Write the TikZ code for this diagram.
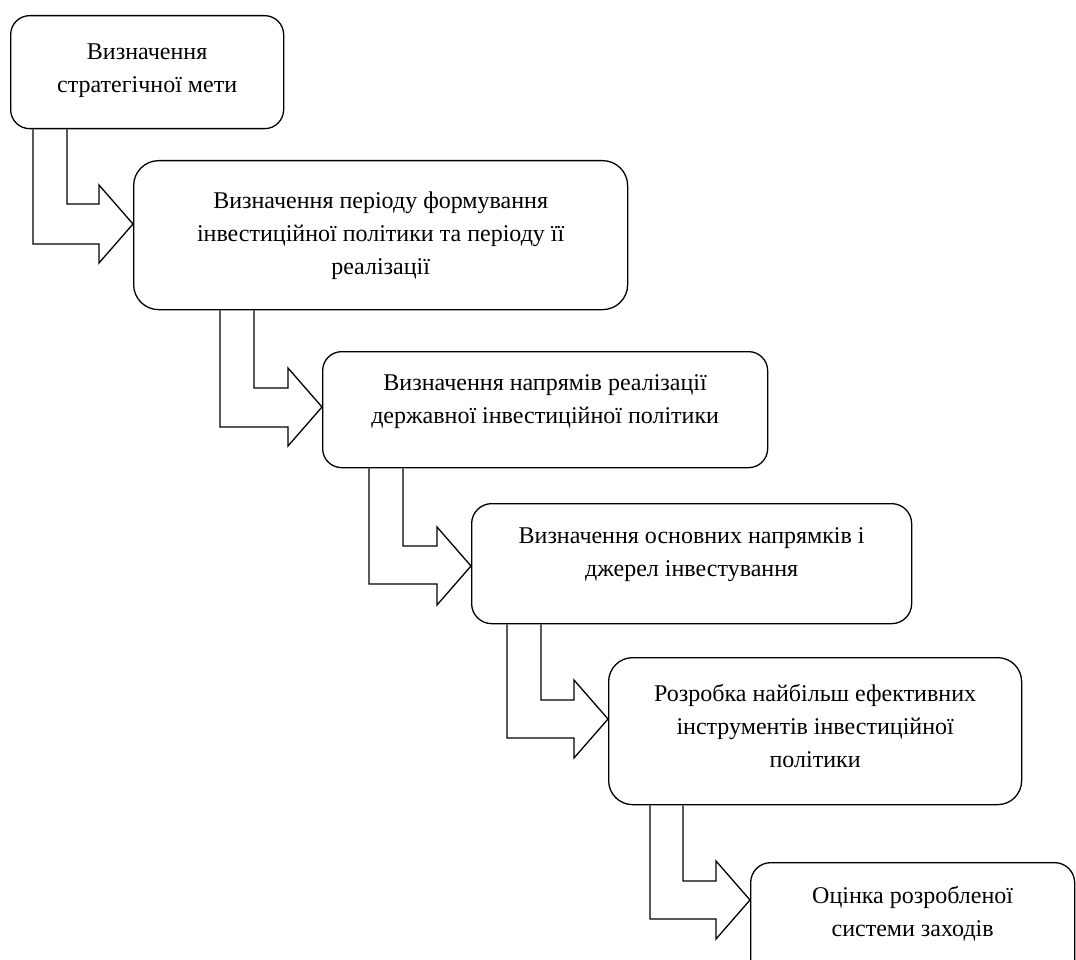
\documentclass[tikz,border=0pt]{standalone}
\usepackage{fontspec}
\setmainfont{Liberation Serif}
\usetikzlibrary{calc}
\newcommand\bentarrow[7]{%
  % #1 from node, #2 to node, #3 outer x, #4 inner x, #5 inner y, #6 outer y, #7 tip y
  \coordinate (o#1) at (#3,#6);
  \coordinate (i#1) at (#4,#5);
  \coordinate (tp#1) at (0,#7);
  \draw[arrowline] (#1.south -| o#1) -- (o#1)
    -- ($(#2.west |- o#1)+(-34,0)$)
    -- ($(#2.west |- tp#1)+(-34,39)$)
    -- (#2.west |- tp#1)
    -- ($(#2.west |- tp#1)+(-34,-39)$)
    -- ($(#2.west |- i#1)+(-34,0)$)
    -- (i#1) -- (#1.south -| i#1);
}
\begin{document}
\begin{tikzpicture}[x=1pt,y=-1pt,
  box/.style={draw, rounded corners=#1, line width=1.3pt, inner sep=0pt, anchor=north west},
  box/.default=20pt,
  lbl/.style={anchor=north, align=center, inner sep=0pt, font=\fontsize{24}{33}\selectfont},
  arrowline/.style={draw, line width=1.3pt, line join=miter}]
\useasboundingbox (0,0) rectangle (1076,960);
\fill[white] (0,0) rectangle (1076,960);

\node[box=19pt, minimum width=273pt, minimum height=113pt] (b1) at (10,15) {};
\node[box=25pt, minimum width=494pt, minimum height=149pt] (b2) at (133,160) {};
\node[box=19pt, minimum width=445pt, minimum height=116pt] (b3) at (322,351) {};
\node[box=20pt, minimum width=440pt, minimum height=120pt] (b4) at (471,503) {};
\node[box=24pt, minimum width=413pt, minimum height=147pt] (b5) at (608,657) {};
\node[box=20pt, minimum width=324pt, minimum height=123pt] (b6) at (750,862) {};

\node[lbl] (t1) at ([yshift=-29pt]b1.north) {Визначення\\стратегічної мети};
\node[lbl] (t2) at ([yshift=-32pt]b2.north) {Визначення періоду формування\\інвестиційної політики та періоду її\\реалізації};
\node[lbl] (t3) at ([yshift=-23pt]b3.north) {Визначення напрямів реалізації\\державної інвестиційної політики};
\node[lbl] (t4) at ([yshift=-24pt]b4.north) {Визначення основних напрямків і\\джерел інвестування};
\node[lbl] (t5) at ([yshift=-27pt]b5.north) {Розробка найбільш ефективних\\інструментів інвестиційної\\політики};
\node[lbl] (t6) at ([yshift=-24pt]b6.north) {Оцінка розробленої\\системи заходів};

\bentarrow{b1}{b2}{33}{67}{204}{244}{224}
\bentarrow{b2}{b3}{220}{254}{388}{427}{407}
\bentarrow{b3}{b4}{369}{403}{546}{584}{566}
\bentarrow{b4}{b5}{507}{541}{700}{738}{719}
\bentarrow{b5}{b6}{650}{683}{881}{919}{900}
\end{tikzpicture}
\end{document}
